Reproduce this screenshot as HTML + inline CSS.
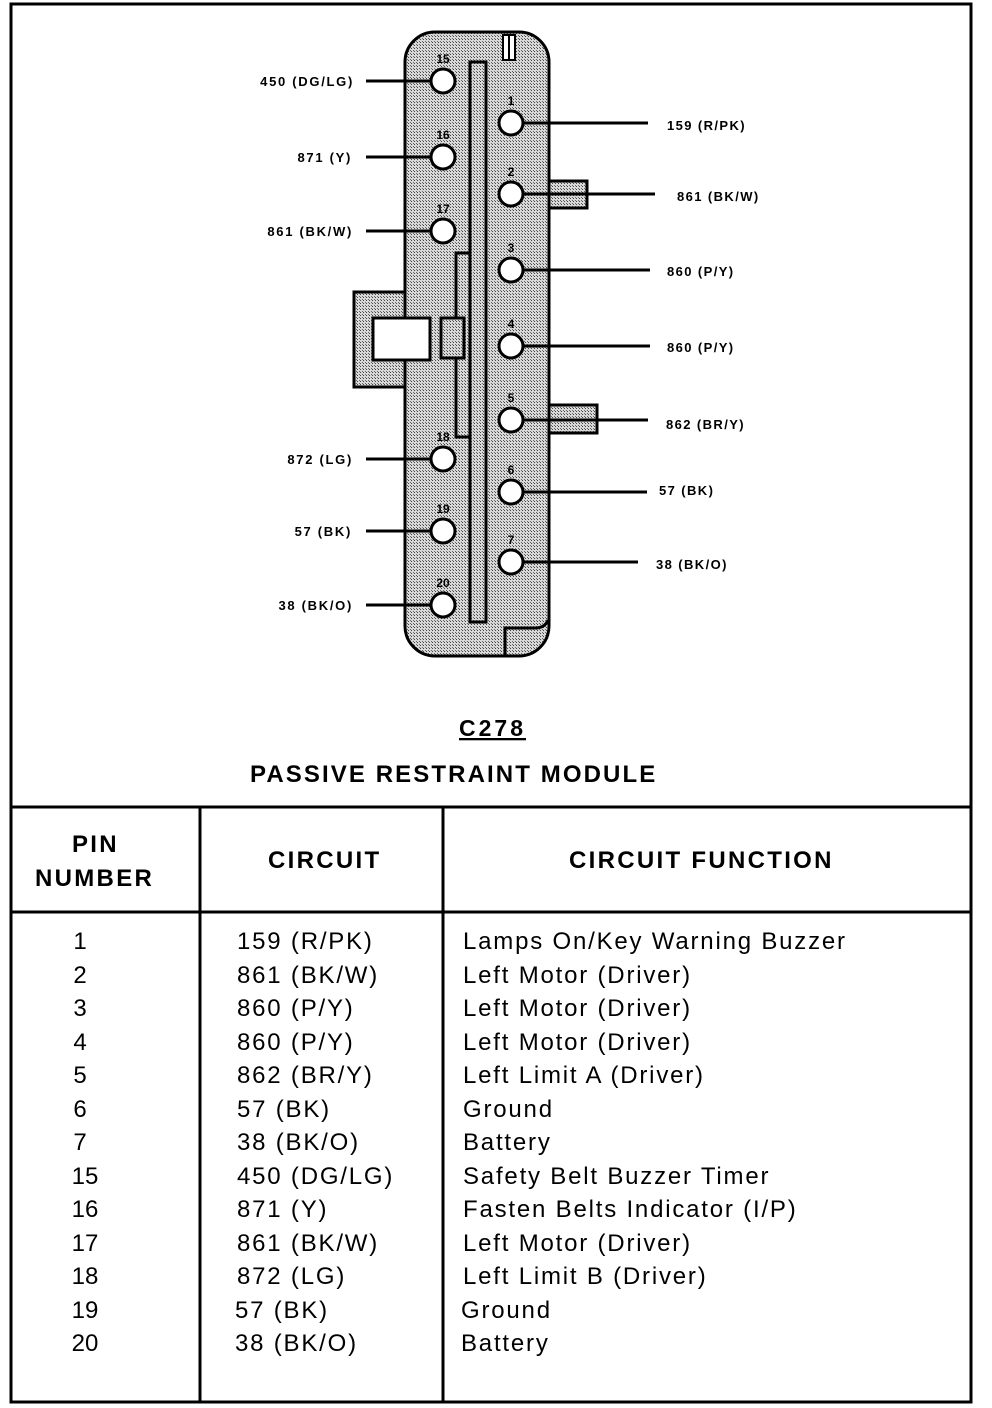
<!DOCTYPE html>
<html><head><style>
body{margin:0;background:#fff;}
svg{display:block;font-family:"Liberation Sans",Arial,sans-serif;}
</style></head><body>
<svg width="992" height="1408" viewBox="0 0 992 1408" xmlns="http://www.w3.org/2000/svg">
<defs>
<pattern id="d" width="3" height="3" patternUnits="userSpaceOnUse">
<rect width="3" height="3" fill="#d8d8d8"/><rect width="1" height="1" fill="#444"/><rect x="2" y="2" width="1" height="1" fill="#666"/>
</pattern>
</defs>
<rect x="11" y="4" width="960" height="1398" fill="none" stroke="#000" stroke-width="3"/>
<rect x="354" y="292" width="60" height="95" fill="url(#d)" stroke="#000" stroke-width="3"/>
<rect x="540" y="181" width="47" height="27" fill="url(#d)" stroke="#000" stroke-width="3"/>
<rect x="540" y="405" width="57" height="28" fill="url(#d)" stroke="#000" stroke-width="3"/>
<rect x="405" y="32" width="144" height="624" rx="30" fill="url(#d)" stroke="#000" stroke-width="3"/>
<rect x="373" y="318" width="57" height="42" fill="#fff" stroke="#000" stroke-width="3"/>
<rect x="456" y="253" width="14" height="184" fill="url(#d)" stroke="#000" stroke-width="3"/>
<rect x="441" y="318" width="23" height="40" fill="url(#d)" stroke="#000" stroke-width="3"/>
<rect x="470" y="62" width="16" height="560" fill="url(#d)" stroke="#000" stroke-width="3"/>
<rect x="503" y="35" width="12" height="25" fill="#fff" stroke="#000" stroke-width="2"/>
<line x1="509" y1="35" x2="509" y2="60" stroke="#000" stroke-width="2"/>
<path d="M505 656 V628 H535 Q545 628 548 620" fill="none" stroke="#000" stroke-width="3"/>
<g stroke="#000" stroke-width="3" fill="#fff">
<line x1="366" y1="81" x2="432" y2="81"/><line x1="366" y1="157" x2="432" y2="157"/><line x1="366" y1="231" x2="432" y2="231"/>
<line x1="366" y1="459" x2="432" y2="459"/><line x1="366" y1="531" x2="432" y2="531"/><line x1="366" y1="605" x2="432" y2="605"/>
<line x1="522" y1="123" x2="648" y2="123"/><line x1="522" y1="194" x2="655" y2="194"/><line x1="522" y1="270" x2="650" y2="270"/>
<line x1="522" y1="346" x2="650" y2="346"/><line x1="522" y1="420" x2="648" y2="420"/><line x1="522" y1="492" x2="647" y2="492"/>
<line x1="522" y1="562" x2="638" y2="562"/>
<ellipse cx="443" cy="81" rx="12" ry="12"/><ellipse cx="443" cy="157" rx="12" ry="12"/><ellipse cx="443" cy="231" rx="12" ry="12"/>
<ellipse cx="443" cy="459" rx="12" ry="12"/><ellipse cx="443" cy="531" rx="12" ry="12"/><ellipse cx="443" cy="605" rx="12" ry="12"/>
<ellipse cx="511" cy="123" rx="12" ry="12"/><ellipse cx="511" cy="194" rx="12" ry="12"/><ellipse cx="511" cy="270" rx="12" ry="12"/>
<ellipse cx="511" cy="346" rx="12" ry="12"/><ellipse cx="511" cy="420" rx="12" ry="12"/><ellipse cx="511" cy="492" rx="12" ry="12"/>
<ellipse cx="511" cy="562" rx="12" ry="12"/>
</g>
<g font-size="12" font-weight="bold" text-anchor="middle">
<text x="443" y="63">15</text><text x="443" y="139">16</text><text x="443" y="213">17</text>
<text x="443" y="441">18</text><text x="443" y="513">19</text><text x="443" y="587">20</text>
<text x="511" y="105">1</text><text x="511" y="176">2</text><text x="511" y="252">3</text>
<text x="511" y="328">4</text><text x="511" y="402">5</text><text x="511" y="474">6</text><text x="511" y="544">7</text>
</g>
<g font-size="13" font-weight="bold" text-anchor="end" letter-spacing="1.7">
<text x="354" y="86">450 (DG/LG)</text><text x="352" y="162">871 (Y)</text><text x="353" y="236">861 (BK/W)</text>
<text x="353" y="464">872 (LG)</text><text x="352" y="536">57 (BK)</text><text x="353" y="610">38 (BK/O)</text>
</g>
<g font-size="13" font-weight="bold" letter-spacing="1.4">
<text x="667" y="130">159 (R/PK)</text><text x="677" y="201">861 (BK/W)</text><text x="667" y="276">860 (P/Y)</text>
<text x="667" y="352">860 (P/Y)</text><text x="666" y="429">862 (BR/Y)</text><text x="659" y="495">57 (BK)</text>
<text x="656" y="569">38 (BK/O)</text>
</g>
<text x="459" y="736" font-size="23" font-weight="bold" letter-spacing="3" text-decoration="underline">C278</text>
<text x="250" y="782" font-size="24" font-weight="bold" letter-spacing="2.1">PASSIVE RESTRAINT MODULE</text>
<g stroke="#000" stroke-width="3">
<line x1="11" y1="807" x2="971" y2="807"/><line x1="11" y1="912" x2="971" y2="912"/>
<line x1="200" y1="807" x2="200" y2="1402"/><line x1="443" y1="807" x2="443" y2="1402"/>
</g>
<g font-size="24" font-weight="bold" letter-spacing="2.3">
<text x="72" y="852">PIN</text><text x="35" y="886">NUMBER</text>
<text x="268" y="868">CIRCUIT</text><text x="569" y="868">CIRCUIT FUNCTION</text>
</g>
<g font-size="24">
<g text-anchor="middle">
<text x="80" y="949">1</text><text x="80" y="983">2</text><text x="80" y="1016">3</text><text x="80" y="1050">4</text>
<text x="80" y="1083">5</text><text x="80" y="1117">6</text><text x="80" y="1150">7</text><text x="85" y="1184">15</text>
<text x="85" y="1217">16</text><text x="85" y="1251">17</text><text x="85" y="1284">18</text><text x="85" y="1318">19</text><text x="85" y="1351">20</text>
</g>
<g letter-spacing="1.8">
<text x="237" y="949">159 (R/PK)</text><text x="237" y="983">861 (BK/W)</text><text x="237" y="1016">860 (P/Y)</text>
<text x="237" y="1050">860 (P/Y)</text><text x="237" y="1083">862 (BR/Y)</text><text x="237" y="1117">57 (BK)</text>
<text x="237" y="1150">38 (BK/O)</text><text x="237" y="1184">450 (DG/LG)</text><text x="237" y="1217">871 (Y)</text>
<text x="237" y="1251">861 (BK/W)</text><text x="237" y="1284">872 (LG)</text><text x="235" y="1318">57 (BK)</text>
<text x="235" y="1351">38 (BK/O)</text>
<text x="463" y="949">Lamps On/Key Warning Buzzer</text><text x="463" y="983">Left Motor (Driver)</text>
<text x="463" y="1016">Left Motor (Driver)</text><text x="463" y="1050">Left Motor (Driver)</text>
<text x="463" y="1083">Left Limit A (Driver)</text><text x="463" y="1117">Ground</text><text x="463" y="1150">Battery</text>
<text x="463" y="1184">Safety Belt Buzzer Timer</text><text x="463" y="1217">Fasten Belts Indicator (I/P)</text>
<text x="463" y="1251">Left Motor (Driver)</text><text x="463" y="1284">Left Limit B (Driver)</text>
<text x="461" y="1318">Ground</text><text x="461" y="1351">Battery</text>
</g>
</g>
</svg>
</body></html>
